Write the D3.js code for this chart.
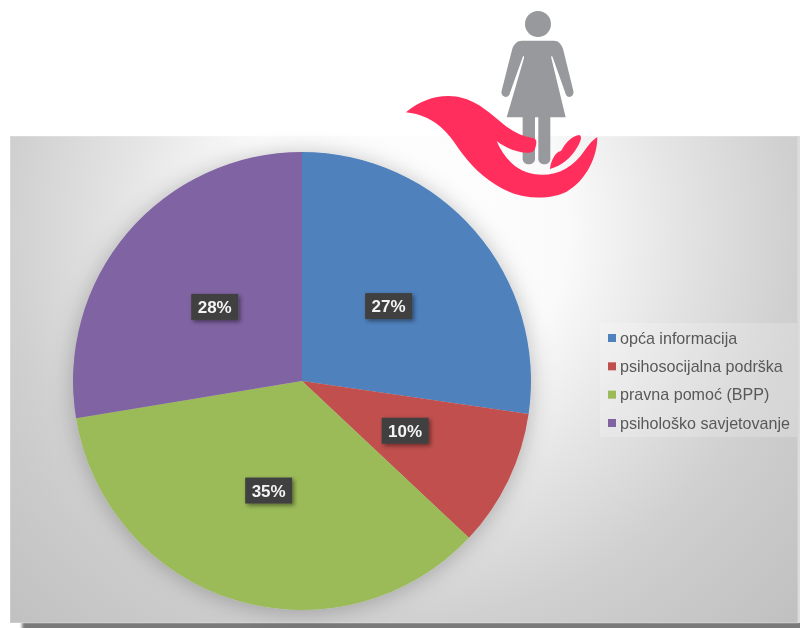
<!DOCTYPE html>
<html>
<head>
  <meta charset="utf-8">
  <title>Pie chart</title>
  <style>
    html, body { margin: 0; padding: 0; background: #fff; overflow: hidden; }
    svg { display: block; font-family: "Liberation Sans", Arial, sans-serif; }
  </style>
</head>
<body>
  <div id="chart"></div>
  <script src="https://d3js.org/d3.v7.min.js"></script>
  <script>
    const categories = ["opća informacija", "psihosocijalna podrška", "pravna pomoć (BPP)", "psihološko savjetovanje"];
    const shares = [27.3, 9.7, 35.4, 27.6];
    const colors = ["#4f81bd", "#c0504d", "#9bbb59", "#8064a2"];

    const width = 800;
    const height = 628;
    const panel = { left: 10, top: 136, right: 798, bottom: 623 };
    const cx = 302;
    const cy = 381;
    const radius = 229;

    const svg = d3.select("#chart").append("svg")
      .attr("width", width)
      .attr("height", height);

    const defs = svg.append("defs");

    const grad = defs.append("radialGradient")
      .attr("id", "panel-bg")
      .attr("gradientUnits", "userSpaceOnUse")
      .attr("cx", 400).attr("cy", 230).attr("r", 560);
    grad.append("stop").attr("offset", "0%").attr("stop-color", "#ffffff");
    grad.append("stop").attr("offset", "30%").attr("stop-color", "#fafafa");
    grad.append("stop").attr("offset", "50%").attr("stop-color", "#e4e4e4");
    grad.append("stop").attr("offset", "70%").attr("stop-color", "#d0d0d0");
    grad.append("stop").attr("offset", "80%").attr("stop-color", "#cacaca");
    grad.append("stop").attr("offset", "100%").attr("stop-color", "#c0c0c0");

    const soft = defs.append("filter").attr("id", "soft");
    soft.append("feGaussianBlur").attr("stdDeviation", 0.5);

    const wideSoft = defs.append("filter").attr("id", "wide-soft")
      .attr("x", "-2%").attr("y", "-50%").attr("width", "104%").attr("height", "200%");
    wideSoft.append("feGaussianBlur").attr("stdDeviation", 1.5);

    const pieShadow = defs.append("filter").attr("id", "pie-shadow")
      .attr("x", "-20%").attr("y", "-20%").attr("width", "140%").attr("height", "140%");
    pieShadow.append("feDropShadow")
      .attr("dx", 0).attr("dy", 2).attr("stdDeviation", 11)
      .attr("flood-color", "#000").attr("flood-opacity", 0.25);

    const boxShadow = defs.append("filter").attr("id", "box-shadow")
      .attr("x", "-30%").attr("y", "-30%").attr("width", "170%").attr("height", "170%");
    boxShadow.append("feDropShadow")
      .attr("dx", 2).attr("dy", 2).attr("stdDeviation", 2)
      .attr("flood-color", "#000").attr("flood-opacity", 0.45);

    // background panel and its bottom shadow
    svg.append("rect")
      .attr("x", panel.left + 12).attr("y", panel.bottom - 4)
      .attr("width", panel.right - panel.left + 10).attr("height", 14)
      .attr("fill", "#7a7a7a")
      .attr("filter", "url(#wide-soft)");
    svg.append("rect")
      .attr("x", panel.left).attr("y", panel.top)
      .attr("width", panel.right - panel.left).attr("height", panel.bottom - panel.top)
      .attr("fill", "url(#panel-bg)")
      .attr("stroke", "#ffffff")
      .attr("stroke-opacity", 0.35);
    svg.append("rect")
      .attr("x", panel.right).attr("y", panel.top)
      .attr("width", width - panel.right).attr("height", panel.bottom - panel.top)
      .attr("fill", "#dcdcdc");

    // pie
    const pie = d3.pie().sort(null).value(d => d);
    const arc = d3.arc().innerRadius(0).outerRadius(radius);
    const arcs = pie(shares);

    const g = svg.append("g").attr("transform", `translate(${cx},${cy})`);

    g.append("g")
      .attr("filter", "url(#pie-shadow)")
      .selectAll("path")
      .data(arcs)
      .enter()
      .append("path")
      .attr("d", arc)
      .attr("fill", (d, i) => colors[i]);

    const labels = g.selectAll(".label")
      .data(arcs)
      .enter()
      .append("g")
      .attr("class", "label")
      .attr("transform", d => `translate(${arc.centroid(d)})`);

    labels.append("rect")
      .attr("x", -23.5).attr("y", -13)
      .attr("width", 47).attr("height", 26)
      .attr("fill", "#404040")
      .attr("filter", "url(#box-shadow)");

    labels.append("text")
      .attr("text-anchor", "middle")
      .attr("dy", "0.36em")
      .attr("font-size", 17)
      .attr("font-weight", "bold")
      .attr("fill", "#f4f4f4")
      .attr("filter", "url(#soft)")
      .text(d => Math.round(d.data) + "%");

    // legend
    const legendY = d3.scalePoint()
      .domain(categories)
      .range([338, 423]);

    svg.append("rect")
      .attr("x", 600).attr("y", 323)
      .attr("width", 197).attr("height", 114)
      .attr("fill", "#fff")
      .attr("fill-opacity", 0.2);

    const legend = svg.selectAll(".legend")
      .data(categories)
      .enter()
      .append("g")
      .attr("class", "legend")
      .attr("transform", d => `translate(608,${legendY(d)})`);

    legend.append("rect")
      .attr("x", 0).attr("y", -4)
      .attr("width", 8).attr("height", 8)
      .attr("fill", (d, i) => colors[i]);

    legend.append("text")
      .attr("x", 12)
      .attr("dy", "0.36em")
      .attr("font-size", 16.1)
      .attr("fill", "#595959")
      .attr("filter", "url(#soft)")
      .text(d => d);

    // woman and hand icon, path units are 3x
    const icon = svg.append("g")
      .attr("transform", "translate(390,0) scale(0.3333)")
      .attr("filter", "url(#soft)");

    const woman = icon.append("g").attr("fill", "#97999d");
    woman.append("circle").attr("cx", 444).attr("cy", 72).attr("r", 39);
    woman.append("path").attr("d",
      "M395 122 L492 122 C505 122 514 132 519 146 L550 272 C554 288 536 298 528 284 " +
      "L488 172 C486 166 483 168 484 174 L527 352 L350 352 L402 174 C403 168 400 166 398 172 " +
      "L358 284 C350 298 330 288 335 272 L367 146 C372 132 382 122 395 122 Z");
    woman.append("path").attr("d",
      "M398 345 L435 345 L435 476 C435 498 398 498 398 476 Z");
    woman.append("path").attr("d",
      "M445 345 L481 345 L481 476 C481 498 445 498 445 476 Z");

    const hand = icon.append("g").attr("fill", "#ff2d5b");
    hand.append("path").attr("d",
      "M48 337 C85 305 130 288 175 288 C240 288 285 325 335 368 C365 394 395 408 428 414 " +
      "C440 416 441 425 437 440 C433 455 425 459 410 458 C375 456 345 442 320 423 " +
      "C340 470 375 512 430 522 C490 532 545 510 585 450 C600 430 610 418 622 412 " +
      "C622 470 590 540 530 575 C480 600 400 600 335 565 C280 535 240 495 205 445 " +
      "C170 390 125 345 48 337 Z");
    hand.append("path").attr("d",
      "M480 507 C482 485 492 465 505 455 C512 455 515 452 518 445 C530 425 548 407 568 405 " +
      "C578 410 572 425 560 445 C545 472 515 498 480 507 Z");
  </script>
</body>
</html>
